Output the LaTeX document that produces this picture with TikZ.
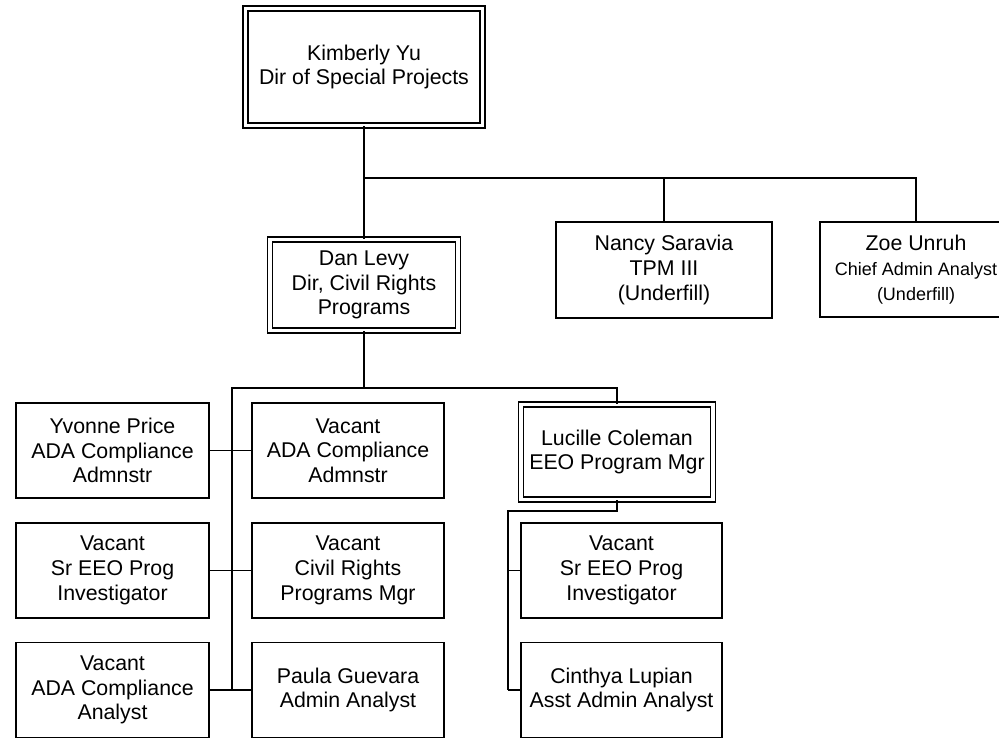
\documentclass[tikz,border=0pt]{standalone}
\usepackage{fontspec}
\setmainfont{Liberation Sans}
\begin{document}
\begin{tikzpicture}[x=0.75pt,y=-0.75pt,
  box/.style={draw,line width=1.2pt,inner sep=0pt,align=center,
    font=\fontsize{16}{18.5}\selectfont,minimum height=71.25pt},
  dbox/.style={box,line width=0.9pt,double,double distance=2.9pt},
  thickln/.style={line width=2.1pt},
  midln/.style={line width=1.5pt},
  thinln/.style={line width=1.1pt}]
\useasboundingbox (0,0) rectangle (999,740);
\clip (0,0) rectangle (999,740);
% top level
\node[dbox,minimum width=177.75pt,minimum height=87.75pt] (kim) at (364,67) {Kimberly Yu\\Dir of Special Projects};
\node[dbox,minimum width=141pt,minimum height=68.25pt] (dan) at (364,285) {Dan Levy\\Dir, Civil Rights\\Programs};
\node[box,minimum width=162pt,minimum height=72pt] (nan) at (664,270) {Nancy Saravia\\TPM III\\(Underfill)};
\node[box,minimum width=144pt] (zoe) at (916,269.5) {Zoe Unruh\\{\fontsize{13.5}{17}\selectfont Chief Admin Analyst}\\{\fontsize{13.5}{17}\selectfont (Underfill)}};
% Dan's reports
\node[box,minimum width=144.75pt] (l1) at (112.5,450.5) {Yvonne Price\\ADA Compliance\\Admnstr};
\node[box,minimum width=144.75pt] (l2) at (112.5,570.5) {Vacant\\Sr EEO Prog\\Investigator};
\node[box,minimum width=144.75pt] (l3) at (112.5,690) {Vacant\\ADA Compliance\\Analyst};
\node[box,minimum width=144pt] (m1) at (348,450.5) {Vacant\\ADA Compliance\\Admnstr};
\node[box,minimum width=144pt] (m2) at (348,570.5) {Vacant\\Civil Rights\\Programs Mgr};
\node[box,minimum width=144pt] (m3) at (348,690) {Paula Guevara\\Admin Analyst};
\node[dbox,minimum width=144pt,minimum height=71.25pt] (luc) at (617,452) {Lucille Coleman\\EEO Program Mgr};
% Lucille's reports
\node[box,minimum width=150.75pt] (r1) at (621.5,570.5) {Vacant\\Sr EEO Prog\\Investigator};
\node[box,minimum width=150.75pt] (r2) at (621.5,690) {Cinthya Lupian\\Asst Admin Analyst};
% connectors: top
\coordinate (b1) at (364,178);
\draw[thickln] (kim.south) -- (b1);
\draw[midln] (b1) -| (zoe.north);
\draw[midln] (b1) -- (dan.north);
\draw[thinln] (b1 -| nan.north) -- (nan.north);
% connectors: Dan
\coordinate (b2) at (364,388);
\coordinate (sp) at (232,388);
\draw[thickln] (dan.south) -- (b2) -- (sp) -- (sp |- l3.east);
\draw[midln] (b2) -| (luc.north);
\draw[thinln] (l1.east) -- (m1.west);
\draw[thinln] (l2.east) -- (m2.west);
\draw[thinln] (l3.east) -- (m3.west);
% connectors: Lucille
\coordinate (c2) at (508,511);
\draw[midln] (luc.south) -- (luc.south |- c2) -- (c2) -- (c2 |- r2.west);
\draw[thinln] (c2 |- r1.west) -- (r1.west);
\draw[thinln] (c2 |- r2.west) -- (r2.west);
\end{tikzpicture}
\end{document}
